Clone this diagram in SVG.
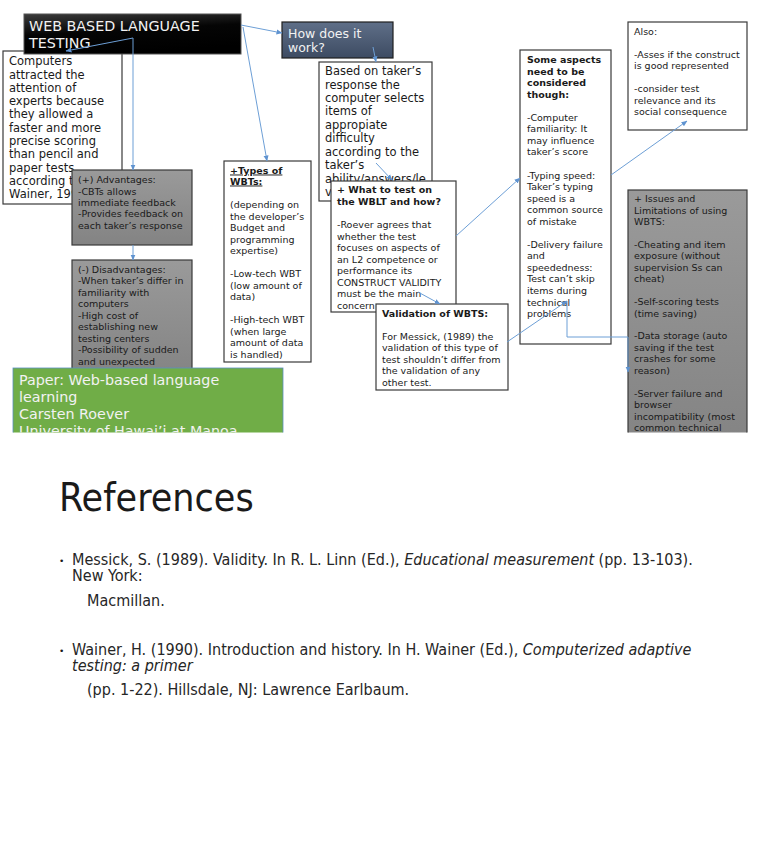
<svg xmlns="http://www.w3.org/2000/svg" width="768" height="866" viewBox="0 0 768 866">
<style>
text{font-family:"DejaVu Sans","Liberation Sans",sans-serif;fill:#1a1a1a}
.s115{font-size:11.5px}
.s95{font-size:9.5px}
.b{font-weight:bold}
.u{text-decoration:underline}
.box{fill:#fff;stroke:#3a3a3a;stroke-width:1.2}
.gbox{fill:url(#gray);stroke:#3a3a3a;stroke-width:1.2}
.wt{fill:#f2f2f2}
.con{fill:none;stroke:#6d9fd6;stroke-width:1}
.ref{font-family:"DejaVu Sans","Liberation Sans",sans-serif;font-stretch:condensed;font-size:16px;fill:#262626}
</style>
<defs>
<linearGradient id="gray" x1="0" y1="0" x2="0" y2="1"><stop offset="0" stop-color="#9a9a9a"/><stop offset="1" stop-color="#838383"/></linearGradient>
<linearGradient id="blk" x1="0" y1="0" x2="0.3" y2="1"><stop offset="0" stop-color="#3c3c3c"/><stop offset="0.5" stop-color="#050505"/><stop offset="1" stop-color="#000"/></linearGradient>
<linearGradient id="slate" x1="0" y1="0" x2="0" y2="1"><stop offset="0" stop-color="#5f6f88"/><stop offset="1" stop-color="#3d4b62"/></linearGradient>
<marker id="ah" markerWidth="6" markerHeight="6" refX="5.5" refY="3" orient="auto" markerUnits="userSpaceOnUse"><path d="M0,0.5 L6,3 L0,5.5 z" fill="#5f93d0"/></marker>
<clipPath id="slide"><rect x="0" y="0" width="768" height="432.5"/></clipPath>
</defs>
<g clip-path="url(#slide)">
<g id="computers">
<rect class="box" x="3" y="51" width="119" height="153"/>
<text class="s115" x="9" y="65">Computers</text>
<text class="s115" x="9" y="78.5">attracted the</text>
<text class="s115" x="9" y="91.8">attention of</text>
<text class="s115" x="9" y="105">experts because</text>
<text class="s115" x="9" y="118.3">they allowed a</text>
<text class="s115" x="9" y="131.6">faster and more</text>
<text class="s115" x="9" y="145">precise scoring</text>
<text class="s115" x="9" y="158.2">than pencil and</text>
<text class="s115" x="9" y="171.5">paper tests</text>
<text class="s115" x="9" y="184.8">according to</text>
<text class="s115" x="9" y="198.1">Wainer, 1990)</text>
</g>
<g id="header">
<rect x="24" y="14" width="217" height="40" fill="url(#blk)" stroke="#555" stroke-width="1"/>
<text class="wt" x="29" y="31" font-size="14.3">WEB BASED LANGUAGE</text>
<text class="wt" x="29" y="48" font-size="14.3">TESTING</text>
</g>
<g id="advantages">
<rect class="gbox" x="72" y="170" width="120" height="75"/>
<text class="s95" x="78" y="182.5">(+) Advantages:</text>
<text class="s95" x="78" y="194.5">-CBTs allows</text>
<text class="s95" x="78" y="205.5">immediate feedback</text>
<text class="s95" x="78" y="217">-Provides feedback on</text>
<text class="s95" x="78" y="228.5">each taker’s response</text>
</g>
<g id="disadvantages">
<rect class="gbox" x="72" y="260" width="120" height="120"/>
<text class="s95" x="78" y="273">(-) Disadvantages:</text>
<text class="s95" x="78" y="284">-When taker’s differ in</text>
<text class="s95" x="78" y="295.5">familiarity with</text>
<text class="s95" x="78" y="307">computers</text>
<text class="s95" x="78" y="318.5">-High cost of</text>
<text class="s95" x="78" y="330">establishing new</text>
<text class="s95" x="78" y="341.5">testing centers</text>
<text class="s95" x="78" y="353">-Possibility of sudden</text>
<text class="s95" x="78" y="364.5">and unexpected</text>
</g>
<g id="paper">
<rect x="13" y="368" width="270" height="70" fill="#70ad47" stroke="#5a8fc0" stroke-width="0.8"/>
<text class="wt" x="19" y="384.5" font-size="14.3">Paper: Web-based language</text>
<text class="wt" x="19" y="401.5" font-size="14.3">learning</text>
<text class="wt" x="19" y="419" font-size="14.3">Carsten Roever</text>
<text class="wt" x="19" y="436" font-size="14.3">University of Hawai’i at Manoa</text>
</g>
<g id="how">
<rect x="282" y="22" width="111" height="36" fill="url(#slate)" stroke="#1e1e1e" stroke-width="1.2"/>
<text class="wt" x="288" y="37.5" font-size="12.5">How does it</text>
<text class="wt" x="288" y="52" font-size="12.5">work?</text>
</g>
<g id="based">
<rect class="box" x="319" y="62" width="113" height="139"/>
<text class="s115" x="325" y="75">Based on taker’s</text>
<text class="s115" x="325" y="88.5">response the</text>
<text class="s115" x="325" y="102">computer selects</text>
<text class="s115" x="325" y="115">items of</text>
<text class="s115" x="325" y="128.5">appropiate</text>
<text class="s115" x="325" y="142">difficulty</text>
<text class="s115" x="325" y="155.5">according to the</text>
<text class="s115" x="325" y="169">taker’s</text>
<text class="s115" x="325" y="182.5">ability/answers/le</text>
<text class="s115" x="325" y="196">vel</text>
</g>
<g id="types">
<rect class="box" x="224" y="161" width="87" height="201"/>
<text class="s95 b u" x="230" y="173.5">+Types of</text>
<text class="s95 b u" x="230" y="184.5">WBTs:</text>
<text class="s95" x="230" y="208">(depending on</text>
<text class="s95" x="230" y="219.5">the developer’s</text>
<text class="s95" x="230" y="231">Budget and</text>
<text class="s95" x="230" y="242.5">programming</text>
<text class="s95" x="230" y="254">expertise)</text>
<text class="s95" x="230" y="277">-Low-tech WBT</text>
<text class="s95" x="230" y="288.5">(low amount of</text>
<text class="s95" x="230" y="300">data)</text>
<text class="s95" x="230" y="323">-High-tech WBT</text>
<text class="s95" x="230" y="334.5">(when large</text>
<text class="s95" x="230" y="346">amount of data</text>
<text class="s95" x="230" y="357.5">is handled)</text>
</g>
<g id="what">
<rect class="box" x="331" y="181" width="125" height="131"/>
<text class="s95 b" x="337" y="193">+ What to test on</text>
<text class="s95 b" x="337" y="205">the WBLT and how?</text>
<text class="s95" x="337" y="228">-Roever agrees that</text>
<text class="s95" x="337" y="239.5">whether the test</text>
<text class="s95" x="337" y="251">focuses on aspects of</text>
<text class="s95" x="337" y="262.5">an L2 competence or</text>
<text class="s95" x="337" y="274">performance its</text>
<text class="s95" x="337" y="285.5">CONSTRUCT VALIDITY</text>
<text class="s95" x="337" y="297">must be the main</text>
<text class="s95" x="337" y="308.5">concern</text>
</g>
<g id="validation">
<rect class="box" x="376" y="304" width="132" height="86"/>
<text class="s95 b" x="382" y="317">Validation of WBTS:</text>
<text class="s95" x="382" y="339.5">For Messick, (1989) the</text>
<text class="s95" x="382" y="351">validation of this type of</text>
<text class="s95" x="382" y="362.5">test shouldn’t differ from</text>
<text class="s95" x="382" y="374">the validation of any</text>
<text class="s95" x="382" y="385.5">other test.</text>
</g>
<g id="aspects">
<rect class="box" x="520" y="50" width="91" height="294"/>
<text class="s95 b" x="527" y="63">Some aspects</text>
<text class="s95 b" x="527" y="74.5">need to be</text>
<text class="s95 b" x="527" y="86.1">considered</text>
<text class="s95 b" x="527" y="97.6">though:</text>
<text class="s95" x="527" y="120.7">-Computer</text>
<text class="s95" x="527" y="132.3">familiarity: It</text>
<text class="s95" x="527" y="143.8">may influence</text>
<text class="s95" x="527" y="155.4">taker’s score</text>
<text class="s95" x="527" y="178.5">-Typing speed:</text>
<text class="s95" x="527" y="190">Taker’s typing</text>
<text class="s95" x="527" y="201.6">speed is a</text>
<text class="s95" x="527" y="213.1">common source</text>
<text class="s95" x="527" y="224.7">of mistake</text>
<text class="s95" x="527" y="247.8">-Delivery failure</text>
<text class="s95" x="527" y="259.3">and</text>
<text class="s95" x="527" y="270.9">speededness:</text>
<text class="s95" x="527" y="282.4">Test can’t skip</text>
<text class="s95" x="527" y="294">items during</text>
<text class="s95" x="527" y="305.5">technical</text>
<text class="s95" x="527" y="317">problems</text>
</g>
<g id="also">
<rect class="box" x="628" y="22" width="119" height="108"/>
<text class="s95" x="634" y="34.5">Also:</text>
<text class="s95" x="634" y="57.6">-Asses if the construct</text>
<text class="s95" x="634" y="69.1">is good represented</text>
<text class="s95" x="634" y="92.2">-consider test</text>
<text class="s95" x="634" y="103.8">relevance and its</text>
<text class="s95" x="634" y="115.3">social consequence</text>
</g>
<g id="issues">
<rect class="gbox" x="628" y="190" width="119" height="260"/>
<text class="s95" x="634" y="202">+ Issues and</text>
<text class="s95" x="634" y="213.5">Limitations of using</text>
<text class="s95" x="634" y="224.9">WBTS:</text>
<text class="s95" x="634" y="247.8">-Cheating and item</text>
<text class="s95" x="634" y="259.3">exposure (without</text>
<text class="s95" x="634" y="270.7">supervision Ss can</text>
<text class="s95" x="634" y="282.2">cheat)</text>
<text class="s95" x="634" y="305">-Self-scoring tests</text>
<text class="s95" x="634" y="316.5">(time saving)</text>
<text class="s95" x="634" y="339.4">-Data storage (auto</text>
<text class="s95" x="634" y="350.9">saving if the test</text>
<text class="s95" x="634" y="362.3">crashes for some</text>
<text class="s95" x="634" y="373.8">reason)</text>
<text class="s95" x="634" y="396.7">-Server failure and</text>
<text class="s95" x="634" y="408.1">browser</text>
<text class="s95" x="634" y="419.6">incompatibility (most</text>
<text class="s95" x="634" y="431">common technical</text>
</g>
<g id="connectors">
<path class="con" d="M133,38 L66,51" marker-end="url(#ah)"/>
<path class="con" d="M133,38 L133,170" marker-end="url(#ah)"/>
<path class="con" d="M133,245 L133,260" marker-end="url(#ah)"/>
<path class="con" d="M241,25 L282,33" marker-end="url(#ah)"/>
<path class="con" d="M243,27 L267,161" marker-end="url(#ah)"/>
<path class="con" d="M373,47 L376,62" marker-end="url(#ah)"/>
<path class="con" d="M376,163 L392,180" marker-end="url(#ah)"/>
<path class="con" d="M418,292 L440,304" marker-end="url(#ah)"/>
<path class="con" d="M456,236 L520,178" marker-end="url(#ah)"/>
<path class="con" d="M507,342 L567,301" marker-end="url(#ah)"/>
<path class="con" d="M567,301 L567,337 L628,337 L628,372" marker-end="url(#ah)"/>
<path class="con" d="M611,175 L687,121" marker-end="url(#ah)"/>
</g>
</g>
<g id="references">
<text x="59" y="511" font-size="39" font-stretch="condensed" fill="#000">References</text>
<text x="59" y="564" font-size="9" fill="#333">•</text>
<text class="ref" x="72" y="565">Messick, S. (1989). Validity. In R. L. Linn (Ed.), <tspan font-style="italic">Educational measurement</tspan> (pp. 13-103).</text>
<text class="ref" x="72" y="581">New York:</text>
<text class="ref" x="87" y="606">Macmillan.</text>
<text x="59" y="654" font-size="9" fill="#333">•</text>
<text class="ref" x="72" y="655">Wainer, H. (1990). Introduction and history. In H. Wainer (Ed.), <tspan font-style="italic">Computerized adaptive</tspan></text>
<text class="ref" x="72" y="671" font-style="italic">testing: a primer</text>
<text class="ref" x="87" y="695">(pp. 1-22). Hillsdale, NJ: Lawrence Earlbaum.</text>
</g>
</svg>
